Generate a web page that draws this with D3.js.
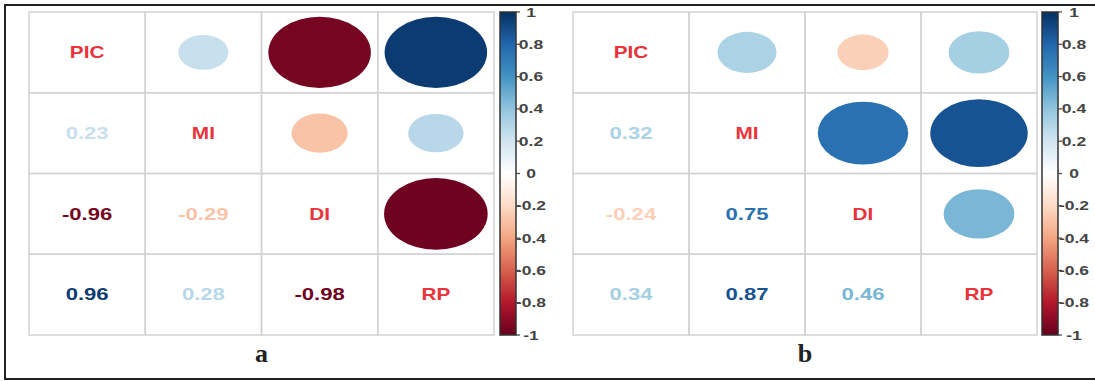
<!DOCTYPE html>
<html>
<head>
<meta charset="utf-8">
<script src="https://cdn.jsdelivr.net/npm/d3@7"></script>
<style>
  html, body { margin: 0; padding: 0; background: #fff; }
  svg { display: block; }
</style>
</head>
<body>
<svg id="chart" width="1095" height="381"></svg>
<script>
// ---- data ----
const variables = ["PIC", "MI", "DI", "RP"];
const corrA = [
  [1, 0.23, -0.96, 0.96],
  [0.23, 1, -0.29, 0.28],
  [-0.96, -0.29, 1, -0.98],
  [0.96, 0.28, -0.98, 1]
];
const corrB = [
  [1, 0.32, -0.24, 0.34],
  [0.32, 1, 0.75, 0.87],
  [-0.24, 0.75, 1, 0.46],
  [0.34, 0.87, 0.46, 1]
];
const panelNames = ["a", "b"];
const colorTicks = [1, 0.8, 0.6, 0.4, 0.2, 0, -0.2, -0.4, -0.6, -0.8, -1];
const tickLabels = ["1", "0.8", "0.6", "0.4", "0.2", "0", "-0.2", "-0.4", "-0.6", "-0.8", "-1"];
const paletteStops = ["#67001F", "#B2182B", "#D6604D", "#F4A582", "#FDDBC7", "#FFFFFF",
                      "#D1E5F0", "#92C5DE", "#4393C3", "#2166AC", "#053061"];

// ---- layout ----
const svg = d3.select("#chart");
const color = d3.scaleLinear()
  .domain(d3.range(11).map(i => -1 + i * 0.2))
  .range(paletteStops)
  .interpolate(d3.interpolateRgb);

const panels = [
  { data: corrA, name: panelNames[0], x0: 29, x1: 494, cb0: 500, cb1: 516, lab: 531 },
  { data: corrB, name: panelNames[1], x0: 573, x1: 1037, cb0: 1042, cb1: 1058, lab: 1074 }
];
const y0 = 12, y1 = 335;
const sx = 1.38;

// gradient
const defs = svg.append("defs");
const grad = defs.append("linearGradient").attr("id", "cbgrad")
  .attr("x1", 0).attr("y1", 1).attr("x2", 0).attr("y2", 0);
d3.range(0, 1.0001, 0.02).forEach(t => {
  grad.append("stop").attr("offset", t).attr("stop-color", color(-1 + 2 * t));
});

panels.forEach(p => {
  const g = svg.append("g");
  const xs = d3.scaleBand().domain(variables).range([p.x0, p.x1]);
  const ys = d3.scaleBand().domain(variables).range([y0, y1]);
  const bw = xs.bandwidth(), bh = ys.bandwidth();

  const cells = [];
  variables.forEach((rv, i) => variables.forEach((cv, j) => {
    cells.push({ i, j, rv, cv, r: p.data[i][j] });
  }));

  // grid
  g.selectAll("rect.cell").data(cells).join("rect")
    .attr("x", d => xs(d.cv)).attr("y", d => ys(d.rv))
    .attr("width", bw).attr("height", bh)
    .attr("fill", "none").attr("stroke", "#d2d2d2").attr("stroke-width", 1.5);

  // circles (upper)
  g.selectAll("ellipse").data(cells.filter(d => d.j > d.i)).join("ellipse")
    .attr("cx", d => xs(d.cv) + bw / 2).attr("cy", d => ys(d.rv) + bh / 2)
    .attr("rx", d => 0.9 * Math.sqrt(Math.abs(d.r)) * bw / 2)
    .attr("ry", d => 0.9 * Math.sqrt(Math.abs(d.r)) * bh / 2)
    .attr("fill", d => color(d.r));

  // numbers (lower)
  g.selectAll("text.num").data(cells.filter(d => d.j < d.i)).join("text")
    .attr("class", "num")
    .attr("transform", d => `translate(${xs(d.cv) + bw / 2},${ys(d.rv) + bh / 2}) scale(${sx},1)`)
    .attr("text-anchor", "middle").attr("dy", "0.36em")
    .attr("font-family", "Liberation Sans, Arial, sans-serif")
    .attr("font-weight", "bold").attr("font-size", 16)
    .attr("fill", d => color(d.r))
    .text(d => d.r.toFixed(2));

  // diagonal labels
  g.selectAll("text.lab").data(cells.filter(d => d.j === d.i)).join("text")
    .attr("class", "lab")
    .attr("transform", d => `translate(${xs(d.cv) + bw / 2},${ys(d.rv) + bh / 2}) scale(1.3,1)`)
    .attr("text-anchor", "middle").attr("dy", "0.36em")
    .attr("font-family", "Liberation Sans, Arial, sans-serif")
    .attr("font-weight", "bold").attr("font-size", 16)
    .attr("fill", "#e8343a")
    .text(d => d.rv);

  // colorbar
  const cy = d3.scaleLinear().domain([-1, 1]).range([y1, y0]);
  g.append("rect").attr("x", p.cb0).attr("y", y0)
    .attr("width", p.cb1 - p.cb0).attr("height", y1 - y0)
    .attr("fill", "url(#cbgrad)").attr("stroke", "#333").attr("stroke-width", 1.5);
  g.selectAll("line.tick").data(colorTicks).join("line")
    .attr("x1", p.cb1).attr("x2", p.cb1 + 4)
    .attr("y1", d => cy(d)).attr("y2", d => cy(d))
    .attr("stroke", "#444").attr("stroke-width", 1.2);
  g.selectAll("text.tick").data(colorTicks).join("text")
    .attr("transform", d => `translate(${p.lab},${cy(d)}) scale(1.4,1)`)
    .attr("text-anchor", "middle").attr("dy", "0.36em")
    .attr("font-family", "Liberation Sans, Arial, sans-serif")
    .attr("font-weight", "bold").attr("font-size", 12.5)
    .attr("fill", "#444")
    .text((d, i) => tickLabels[i]);

  // panel label
  g.append("text")
    .attr("x", (p.x0 + p.x1) / 2).attr("y", 362)
    .attr("text-anchor", "middle")
    .attr("font-family", "Liberation Serif, Times New Roman, serif")
    .attr("font-weight", "bold")
    .attr("font-size", 26).attr("fill", "#222")
    .text(p.name);
});

// outer frame
svg.append("path")
  .attr("d", "M1096,5 H5 V379 H1096")
  .attr("fill", "none").attr("stroke", "#222").attr("stroke-width", 2);
</script>
</body>
</html>
